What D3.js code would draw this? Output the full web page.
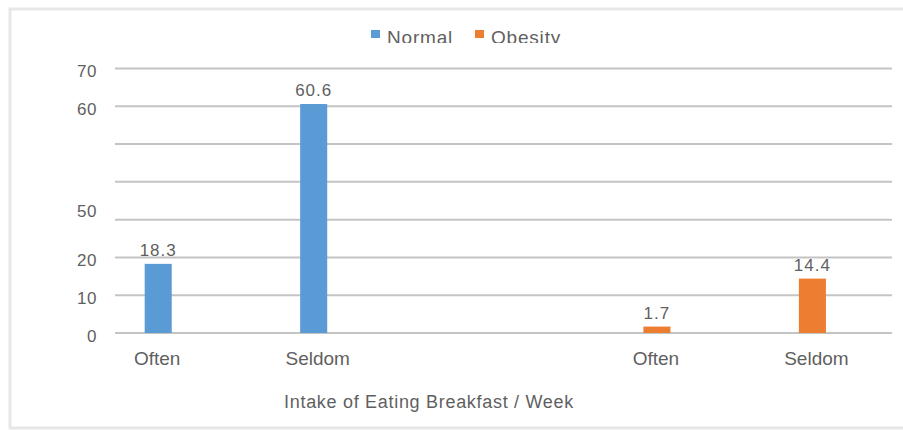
<!DOCTYPE html>
<html>
<head>
<meta charset="utf-8">
<script src="https://cdn.jsdelivr.net/npm/d3@7"></script>
<style>
  body { margin: 0; background: #fff; }
  text { font-family: "Liberation Sans", Arial, sans-serif; fill: #5f5f5f; }
</style>
</head>
<body>
<div class="chart"></div>
<script>
// data
const groups = ['Normal', 'Obesity'];
const intake = ['Often', 'Seldom'];
const normalValues = [18.3, 60.6];
const obesityValues = [1.7, 14.4];
const colors = ['#5b9bd5', '#ed7d31'];
// the y labels in the source are not evenly placed ("50" sits low)
const yTickLabels = ['0', '10', '20', '50', '60', '70'];
const yTickAt = [0, 10, 20, 33.2, 60, 70];
const gridValues = [0, 10, 20, 30, 40, 50, 60, 70];
const xTitle = 'Intake of Eating Breakfast / Week';

const W = 903, H = 430;
const margin = { top: 68.5, right: 11, bottom: 97, left: 115 };
const width = W - margin.left - margin.right;
const height = H - margin.top - margin.bottom;

const bars = [];
groups.forEach((g, gi) => {
  const vals = gi === 0 ? normalValues : obesityValues;
  intake.forEach((c, ci) => bars.push({ group: g, cat: c, value: vals[ci], color: colors[gi] }));
});

const svg = d3.select('.chart')
  .append('svg')
  .attr('width', W)
  .attr('height', H);

// light frame (right side runs off the picture)
svg.append('path')
  .attr('d', `M${W + 5},9 H10 V428 H${W + 5}`)
  .attr('fill', 'none')
  .attr('stroke', '#e7e7e7')
  .attr('stroke-width', 3);

const g = svg.append('g')
  .attr('transform', `translate(${margin.left}, ${margin.top})`);

const y = d3.scaleLinear()
  .domain([0, 70])
  .range([height, 0]);

const x0 = d3.scaleBand()
  .domain(groups)
  .range([0, width])
  .paddingInner(0.634)
  .paddingOuter(0.096)
  .align(0.31);

const x1 = d3.scaleBand()
  .domain(intake)
  .range([0, x0.bandwidth()])
  .paddingInner(0.826)
  .paddingOuter(0);

// gridlines
g.append('g')
  .selectAll('line')
  .data(gridValues)
  .join('line')
  .attr('x1', 0)
  .attr('x2', width)
  .attr('y1', d => y(d))
  .attr('y2', d => y(d))
  .attr('stroke', '#c4c4c4')
  .attr('stroke-width', 2);

// y labels
g.append('g')
  .selectAll('text')
  .data(yTickLabels)
  .join('text')
  .attr('x', -18)
  .attr('y', (d, i) => y(yTickAt[i]) + 3)
  .attr('dy', '0.35em')
  .attr('text-anchor', 'end')
  .style('font-size', '17px')
  .style('letter-spacing', '0.5px')
  .text(d => d);

const bx = d => x0(d.group) + x1(d.cat);

g.append('g')
  .selectAll('rect')
  .data(bars)
  .join('rect')
  .attr('x', bx)
  .attr('y', d => y(d.value))
  .attr('width', x1.bandwidth())
  .attr('height', d => y(0) - y(d.value))
  .attr('fill', d => d.color);

// value labels
g.append('g')
  .selectAll('text')
  .data(bars)
  .join('text')
  .attr('x', d => bx(d) + x1.bandwidth() / 2)
  .attr('y', d => y(d.value) - 8)
  .attr('text-anchor', 'middle')
  .style('font-size', '17px')
  .style('letter-spacing', '1px')
  .text(d => d.value);

// category labels
g.append('g')
  .selectAll('text')
  .data(bars)
  .join('text')
  .attr('x', d => bx(d) + x1.bandwidth() / 2 + (d.cat === 'Seldom' ? 4 : -1))
  .attr('y', height + 25)
  .attr('dy', '0.35em')
  .attr('text-anchor', 'middle')
  .style('font-size', '19px')
  .text(d => d.cat);

// axis title
svg.append('text')
  .attr('x', 429)
  .attr('y', 402)
  .attr('dy', '0.35em')
  .attr('text-anchor', 'middle')
  .style('font-size', '18px')
  .style('letter-spacing', '0.7px')
  .text(xTitle);

// legend, cut off at the bottom like the source
svg.append('clipPath')
  .attr('id', 'legclip')
  .append('rect')
  .attr('x', 0).attr('y', 0).attr('width', W).attr('height', 43);

const legend = svg.append('g')
  .attr('clip-path', 'url(#legclip)')
  .selectAll('g')
  .data(groups)
  .join('g')
  .attr('transform', (d, i) => `translate(${371 + i * 104}, 0)`);

legend.append('rect')
  .attr('y', 30)
  .attr('width', 9)
  .attr('height', 8)
  .attr('fill', (d, i) => colors[i]);

legend.append('text')
  .attr('x', 16)
  .attr('y', 44)
  .style('font-size', '19px')
  .style('letter-spacing', '0.8px')
  .text(d => d);
</script>
</body>
</html>
